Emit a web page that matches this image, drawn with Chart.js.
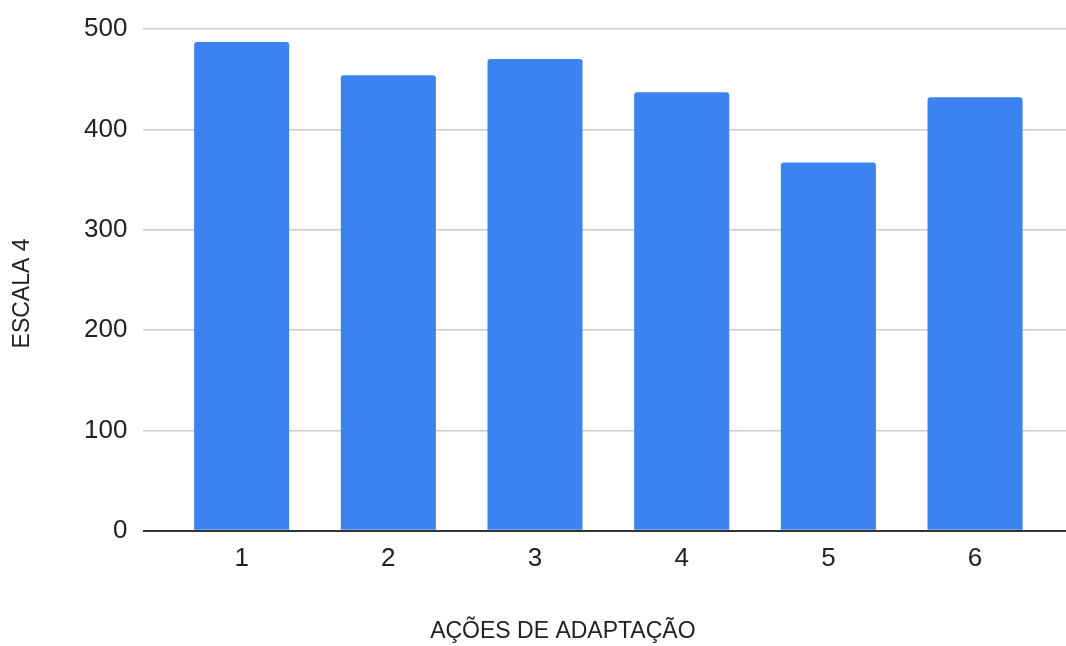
<!DOCTYPE html>
<html>
<head>
<meta charset="utf-8">
<script src="https://cdn.jsdelivr.net/npm/chart.js@4.4.0/dist/chart.umd.min.js"></script>
<style>
  html, body { margin: 0; padding: 0; background: #fff; }
  #wrap { width: 1066px; height: 646px; }
</style>
</head>
<body>
<div id="wrap"><canvas id="chart"></canvas></div>
<script>
// dados do gráfico
const acoes = [1, 2, 3, 4, 5, 6];
const escala4 = [487, 454, 470, 437, 367, 432];
const yTicks = [0, 100, 200, 300, 400, 500];
const xTitle = 'AÇÕES DE ADAPTAÇÃO';
const yTitle = 'ESCALA 4';

const FONT = '"Liberation Sans", Arial, sans-serif';
const TEXT = '#222222';

// títulos dos eixos desenhados à mão (posição como no original)
const axisTitles = {
    id: 'axisTitles',
    afterDraw(chart) {
        const { ctx, chartArea } = chart;
        ctx.save();
        ctx.fillStyle = TEXT;
        ctx.font = `23px ${FONT}`;
        ctx.textAlign = 'center';
        ctx.textBaseline = 'middle';
        ctx.fillText(xTitle, chart.width * 0.528, chartArea.bottom + 101);
        ctx.translate(23, chartArea.top + (chartArea.bottom - chartArea.top) * 0.527);
        ctx.rotate(-Math.PI / 2);
        ctx.fillText(yTitle, 0, 0);
        ctx.restore();
    }
};

new Chart(document.getElementById('chart'), {
    type: 'bar',
    data: {
        datasets: [{
            data: acoes.map((a, i) => ({ x: a, y: escala4[i] })),
            backgroundColor: '#3c82f0',
            borderRadius: { topLeft: 3, topRight: 3 },
            borderSkipped: 'bottom',
            barPercentage: 1,
            categoryPercentage: 0.648
        }]
    },
    options: {
        responsive: true,
        maintainAspectRatio: false,
        animation: false,
        layout: { padding: { left: 68, right: 0, top: 14, bottom: 60 } },
        plugins: { legend: { display: false }, tooltip: { enabled: false } },
        scales: {
            x: {
                type: 'linear',
                offset: false,
                min: 0.33,
                max: 6.62,
                afterBuildTicks: axis => { axis.ticks = acoes.map(v => ({ value: v })); },
                grid: { display: false, drawTicks: false },
                border: { display: false },
                ticks: { color: TEXT, font: { family: FONT, size: 26 }, padding: 12 }
            },
            y: {
                min: 0,
                max: 500,
                afterBuildTicks: axis => { axis.ticks = yTicks.map(v => ({ value: v })); },
                grid: {
                    drawTicks: false,
                    color: ctx => ctx.tick && ctx.tick.value === 0 ? '#333333' : '#cccccc',
                    lineWidth: ctx => ctx.tick && ctx.tick.value === 0 ? 2 : 1.5
                },
                border: { display: false },
                ticks: { color: TEXT, font: { family: FONT, size: 26, lineHeight: 1 }, padding: 16 }
            }
        }
    },
    plugins: [axisTitles]
});
</script>
</body>
</html>
